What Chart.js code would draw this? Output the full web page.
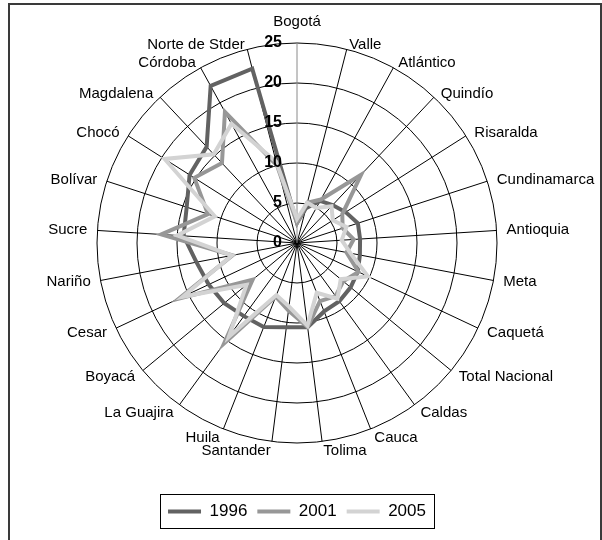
<!DOCTYPE html>
<html>
<head>
<meta charset="utf-8">
<script src="https://cdn.jsdelivr.net/npm/chart.js@4.4.0/dist/chart.umd.min.js"></script>
<style>
  html, body { margin: 0; padding: 0; background: #fff; overflow: hidden; }
  #wrap { position: relative; width: 602px; height: 540px; overflow: hidden; }
  #frame { position: absolute; left: 8px; top: 3px; width: 594px; height: 600px; border: 2px solid #3a3a3a; box-sizing: border-box; pointer-events: none; }
  #c { position: absolute; left: 0; top: 0; }
</style>
</head>
<body>
<div id="wrap">
  <canvas id="c" width="602" height="540"></canvas>
  <div id="frame"></div>
</div>
<script>
// Departamentos (en el orden del gráfico, desde arriba y en el sentido del reloj)
const categories = ['Bogotá', 'Valle', 'Atlántico', 'Quindío', 'Risaralda', 'Cundinamarca', 'Antioquia',
  'Meta', 'Caquetá', 'Total Nacional', 'Caldas', 'Cauca', 'Tolima', 'Santander', 'Huila', 'La Guajira',
  'Boyacá', 'Cesar', 'Nariño', 'Sucre', 'Bolívar', 'Chocó', 'Magdalena', 'Córdoba', 'Norte de Stder'];

const years = ['1996', '2001', '2005'];

const values1996 = [2.5, 4.5, 6.0, 6.5, 7.2, 8.0, 7.9, 8.0, 8.4, 8.7, 9.0, 9.2, 10.6, 10.6, 11.3, 11.3,
  11.8, 12.2, 12.8, 14.2, 14.5, 15.9, 16.5, 22.4, 22.5];
const values2001 = [2.5, 5.2, 6.2, 11.7, 6.7, 6.0, 7.1, 6.3, 8.5, 7.5, 8.2, 7.8, 10.6, 8.5, 7.2, 15.5,
  7.2, 16.3, 8.2, 17.0, 11.7, 15.2, 13.7, 18.7, 10.0];
const values2005 = [3.0, 5.2, 5.0, 6.3, 5.3, 6.5, 5.6, 6.8, 9.8, 7.1, 8.6, 6.7, 10.4, 8.0, 7.0, 14.5,
  8.2, 15.8, 8.3, 15.0, 10.8, 19.6, 15.2, 17.0, 10.5];

const tickValues = [0, 5, 10, 15, 20, 25];

const colors = ['#626262', '#979797', '#d3d3d3'];
const FONT = 'Arial, "Liberation Sans", sans-serif';

// Nombres de los departamentos, colocados al estilo de Excel (pegados al extremo de cada eje)
const pointLabelsPlugin = {
  id: 'pointLabelsExcel',
  afterDraw(chart) {
    const scale = chart.scales.r;
    const ctx = chart.ctx;
    ctx.save();
    ctx.font = '15px ' + FONT;
    ctx.fillStyle = '#000';
    categories.forEach((name, i) => {
      const p = scale.getPointPosition(i, scale.drawingArea + 10);
      const dx = p.x - scale.xCenter;
      const up = (scale.yCenter - p.y) / (scale.drawingArea + 10); // coseno del ángulo
      if (Math.abs(dx) < 2) {
        ctx.textAlign = 'center';
        ctx.textBaseline = up > 0 ? 'bottom' : 'top';
        ctx.fillText(name, p.x, up > 0 ? p.y - 4 : p.y + 4);
      } else {
        ctx.textAlign = dx > 0 ? 'left' : 'right';
        ctx.textBaseline = 'middle';
        ctx.fillText(name, p.x, p.y + Math.max(0, up) * 5);
      }
    });
    ctx.restore();
  }
};

// Etiquetas de la escala, dibujadas encima de las líneas y a la izquierda del eje
const tickLabelsPlugin = {
  id: 'tickLabels',
  afterDatasetsDraw(chart) {
    const scale = chart.scales.r;
    const ctx = chart.ctx;
    ctx.save();
    ctx.font = 'bold 16px ' + FONT;
    ctx.fillStyle = '#000';
    ctx.textAlign = 'right';
    ctx.textBaseline = 'middle';
    tickValues.forEach(v => {
      const d = scale.getDistanceFromCenterForValue(v);
      ctx.fillText(String(v), scale.xCenter - 15, scale.yCenter - d);
    });
    ctx.restore();
  }
};

// Marco alrededor de la leyenda
const legendFrame = {
  id: 'legendFrame',
  afterDraw(chart) {
    const boxes = chart.legend.legendHitBoxes;
    if (!boxes || !boxes.length) return;
    const ctx = chart.ctx;
    const left = Math.round(Math.min(...boxes.map(b => b.left)) - 8);
    const right = Math.round(Math.max(...boxes.map(b => b.left + b.width)) + 8);
    const top = Math.round(boxes[0].top - 9);
    const bottom = Math.round(boxes[0].top + boxes[0].height + 8);
    ctx.save();
    ctx.strokeStyle = '#000';
    ctx.lineWidth = 1;
    ctx.strokeRect(left + 0.5, top + 0.5, right - left, bottom - top);
    ctx.restore();
  }
};

const series = [values1996, values2001, values2005];

new Chart(document.getElementById('c'), {
  type: 'radar',
  data: {
    labels: categories,
    datasets: series.map((vals, i) => ({
      label: years[i],
      data: vals,
      borderColor: colors[i],
      backgroundColor: colors[i],
      borderWidth: 4,
      fill: false,
      order: 3 - i // 2005 queda encima
    }))
  },
  options: {
    responsive: false,
    animation: false,
    layout: { padding: { left: 0, right: 8, top: 43, bottom: 10 } },
    elements: {
      line: { tension: 0, borderJoinStyle: 'miter' },
      point: { radius: 0, hoverRadius: 0 }
    },
    scales: {
      r: {
        min: 0,
        max: 25,
        startAngle: 0,
        ticks: { stepSize: 5, display: false },
        grid: { circular: true, color: '#000', lineWidth: 1 },
        angleLines: { color: c => (c.index === 0 ? '#8a8a8a' : '#000'), lineWidth: 1 },
        pointLabels: { display: false }
      }
    },
    plugins: {
      tooltip: { enabled: false },
      legend: {
        position: 'bottom',
        title: { display: true, text: '', font: { size: 10 }, padding: { top: 19, bottom: 19 } },
        labels: {
          usePointStyle: true,
          pointStyle: 'line',
          pointStyleWidth: 33,
          padding: 10,
          color: '#000',
          font: { family: FONT, size: 17 },
          sort: (a, b) => a.datasetIndex - b.datasetIndex
        }
      }
    }
  },
  plugins: [tickLabelsPlugin, pointLabelsPlugin, legendFrame]
});
</script>
</body>
</html>
